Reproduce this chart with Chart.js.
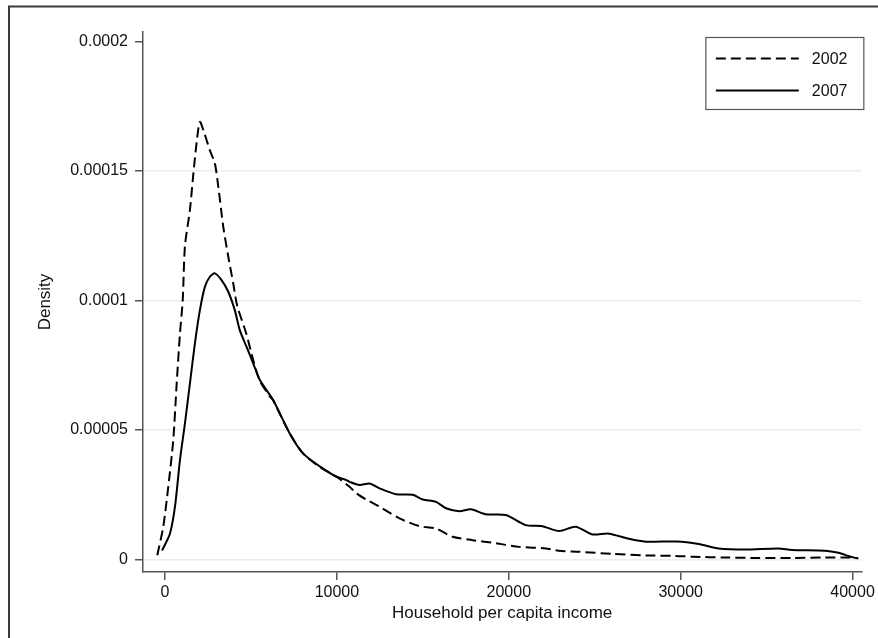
<!DOCTYPE html>
<html>
<head>
<meta charset="utf-8">
<script src="https://cdn.jsdelivr.net/npm/chart.js@4.4.1/dist/chart.umd.min.js"></script>
<style>
  html, body { margin: 0; padding: 0; background: #fff; }
  #wrap { width: 878px; height: 638px; }
</style>
</head>
<body>
<div id="wrap"><canvas id="myChart" width="878" height="638"></canvas></div>
<script>
// kernel density of household per capita income
const income2002 = [-450, -100, 190, 480, 680, 870, 1030, 1160, 1450, 1650, 1840, 2030, 2320, 2610, 2900, 3100, 3390, 3680, 3970, 4200, 4740, 5130, 5520, 6100, 6290, 7255, 8030, 9000, 9970, 10740, 11130, 11700, 12480, 13640, 14800, 15770, 16730, 17890, 19250, 20600, 22150, 22900, 24090, 26000, 28000, 29700, 30700, 32600, 34500, 36500, 38400, 39800, 40340];
const density2002 = [0.17e-5, 1.27e-5, 2.81e-5, 4.61e-5, 6.8e-5, 8.73e-5, 10.0e-5, 12.1e-5, 13.5e-5, 14.9e-5, 16.1e-5, 16.9e-5, 16.4e-5, 15.8e-5, 15.3e-5, 14.4e-5, 12.85e-5, 11.7e-5, 10.66e-5, 9.8e-5, 8.7e-5, 7.7e-5, 6.9e-5, 6.3e-5, 6.15e-5, 4.87e-5, 4.1e-5, 3.58e-5, 3.2e-5, 2.81e-5, 2.56e-5, 2.32e-5, 2.04e-5, 1.59e-5, 1.29e-5, 1.2e-5, 0.88e-5, 0.75e-5, 0.63e-5, 0.49e-5, 0.43e-5, 0.34e-5, 0.3e-5, 0.22e-5, 0.16e-5, 0.14e-5, 0.11e-5, 0.08e-5, 0.06e-5, 0.06e-5, 0.08e-5, 0.08e-5, 0.05e-5];

const income2007 = [-170, 290, 580, 870, 1160, 1450, 1740, 2030, 2320, 2610, 2900, 3290, 3680, 4060, 4350, 4740, 5130, 5520, 6290, 7255, 8030, 9000, 9970, 10550, 10740, 11320, 11900, 12480, 13450, 14410, 15000, 15770, 16350, 17120, 17800, 18660, 19820, 20980, 21950, 22930, 23890, 24860, 25830, 26990, 27960, 29800, 31050, 32210, 33760, 35700, 36470, 38400, 39180, 39760, 40240];
const density2007 = [0.35e-5, 1.01e-5, 2.04e-5, 3.84e-5, 5.26e-5, 6.8e-5, 8.35e-5, 9.63e-5, 10.53e-5, 10.92e-5, 11.05e-5, 10.79e-5, 10.34e-5, 9.63e-5, 8.86e-5, 8.22e-5, 7.58e-5, 6.93e-5, 6.16e-5, 4.87e-5, 4.1e-5, 3.6e-5, 3.2e-5, 3.07e-5, 3.0e-5, 2.88e-5, 2.94e-5, 2.75e-5, 2.52e-5, 2.5e-5, 2.32e-5, 2.23e-5, 1.98e-5, 1.87e-5, 1.94e-5, 1.75e-5, 1.72e-5, 1.33e-5, 1.29e-5, 1.1e-5, 1.27e-5, 0.97e-5, 1.0e-5, 0.8e-5, 0.69e-5, 0.7e-5, 0.6e-5, 0.43e-5, 0.39e-5, 0.43e-5, 0.37e-5, 0.34e-5, 0.26e-5, 0.14e-5, 0.05e-5];

const seriesNames = ['2002', '2007'];
const xTicks = [0, 10000, 20000, 30000, 40000];
const xTickLabels = ['0', '10000', '20000', '30000', '40000'];
const yTicks = [0, 0.00005, 0.0001, 0.00015, 0.0002];
const yTickLabels = ['0', '0.00005', '0.0001', '0.00015', '0.0002'];

const FONT = "'Liberation Sans', Arial, sans-serif";

const toPoints = (xs, ys) => xs.map((x, i) => ({ x: x, y: ys[i] }));

// outer frame (only top and left edges show) + boxed legend
const framePlugin = {
    id: 'frame',
    afterDraw(chart) {
        const ctx = chart.ctx;
        ctx.save();
        ctx.strokeStyle = '#3a3a3a';
        ctx.lineWidth = 2;
        ctx.beginPath();
        ctx.moveTo(9, 638);
        ctx.lineTo(9, 6.5);
        ctx.lineTo(878, 6.5);
        ctx.stroke();

        const area = chart.chartArea;
        const bx = area.right - 155.5, by = area.top + 5.5, bw = 158, bh = 72;
        ctx.fillStyle = '#fff';
        ctx.fillRect(bx, by, bw, bh);
        ctx.strokeStyle = '#555';
        ctx.lineWidth = 1.2;
        ctx.strokeRect(bx, by, bw, bh);

        chart.data.datasets.forEach((ds, i) => {
            const y = by + 21 + i * 32;
            ctx.strokeStyle = ds.borderColor;
            ctx.lineWidth = ds.borderWidth;
            ctx.setLineDash(ds.borderDash || []);
            ctx.beginPath();
            ctx.moveTo(bx + 10, y);
            ctx.lineTo(bx + 93, y);
            ctx.stroke();
            ctx.setLineDash([]);
            ctx.fillStyle = '#111';
            ctx.font = '16px ' + FONT;
            ctx.textBaseline = 'middle';
            ctx.textAlign = 'left';
            ctx.fillText(ds.label, bx + 106, y + 1);
        });
        ctx.restore();
    }
};

const ctx = document.getElementById('myChart').getContext('2d');

new Chart(ctx, {
    type: 'line',
    data: {
        datasets: [{
            label: seriesNames[0],
            data: toPoints(income2002, density2002),
            borderColor: '#000',
            borderWidth: 2,
            borderDash: [10, 5],
            pointRadius: 0,
            tension: 0.25,
            fill: false
        }, {
            label: seriesNames[1],
            data: toPoints(income2007, density2007),
            borderColor: '#000',
            borderWidth: 2,
            pointRadius: 0,
            tension: 0.25,
            fill: false
        }]
    },
    options: {
        responsive: false,
        animation: false,
        plugins: {
            legend: { display: false },
            tooltip: { enabled: false }
        },
        layout: {
            padding: { left: 0, top: 32, right: 15, bottom: 0 }
        },
        scales: {
            x: {
                type: 'linear',
                min: -1280,
                max: 40510,
                afterBuildTicks: s => { s.ticks = xTicks.map(v => ({ value: v })); },
                afterFit: s => { s.height = 66; },
                ticks: {
                    callback: v => xTickLabels[xTicks.indexOf(v)],
                    font: { size: 16, family: FONT },
                    color: '#111',
                    padding: 3,
                    maxRotation: 0,
                    autoSkip: false
                },
                grid: {
                    drawOnChartArea: false,
                    tickLength: 8,
                    tickColor: '#555',
                    lineWidth: 1.5
                },
                border: { color: '#555', width: 1.5 },
                title: {
                    display: true,
                    text: 'Household per capita income',
                    font: { size: 17, family: FONT },
                    color: '#111',
                    padding: { top: 0, bottom: 14 }
                }
            },
            y: {
                type: 'linear',
                min: -0.0000048,
                max: 0.0002037,
                afterBuildTicks: s => { s.ticks = yTicks.map(v => ({ value: v })); },
                afterFit: s => { s.width = 143; },
                ticks: {
                    callback: v => yTickLabels[yTicks.indexOf(v)],
                    font: { size: 16, family: FONT },
                    color: '#111',
                    padding: 7,
                    autoSkip: false
                },
                grid: {
                    color: c => (c.tick && c.tick.value > 0.00019) ? 'rgba(0,0,0,0)' : '#e6eff1',
                    tickColor: '#555',
                    tickLength: 8,
                    lineWidth: 1.5
                },
                border: { color: '#555', width: 1.5 },
                title: {
                    display: true,
                    text: 'Density',
                    font: { size: 17, family: FONT },
                    color: '#111',
                    padding: { top: 35, bottom: 0 }
                }
            }
        }
    },
    plugins: [framePlugin]
});
</script>
</body>
</html>
